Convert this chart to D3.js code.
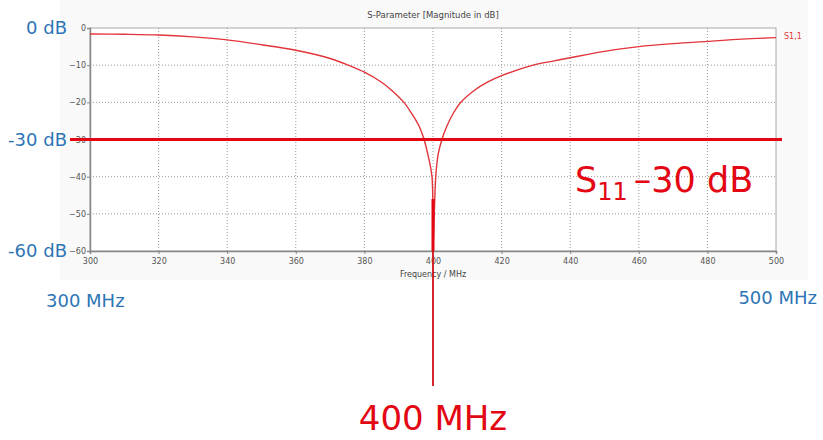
<!DOCTYPE html>
<html>
<head>
<meta charset="utf-8">
<script src="https://cdnjs.cloudflare.com/ajax/libs/d3/7.8.5/d3.min.js"></script>
<style>
  body { margin: 0; background: #fff; }
  .chart text { font-family: "DejaVu Sans", sans-serif; }
</style>
</head>
<body>
<div class="chart"></div>
<script>
// S11 (MHz, dB)
const freqs = [300, 310, 320, 330, 340, 350, 360, 370, 375, 380, 385, 388, 391.5, 394, 396, 397.4, 398.5, 399.7, 400,
               400.8, 401.5, 402.6, 404, 406, 408.1, 412, 416, 420, 429.2, 435, 440, 450, 460, 470, 480, 490, 500];
const s11 = [-1.6, -1.7, -1.9, -2.4, -3.2, -4.5, -6.0, -8.2, -9.9, -11.9, -14.6, -16.8, -20, -23.3, -26.5, -30, -34, -40, -60,
             -40, -34, -30, -26.5, -22.8, -20, -16.8, -14.5, -12.8, -10, -8.9, -8.0, -6.3, -5.0, -4.2, -3.6, -3.0, -2.6];
const xTicks = [300, 320, 340, 360, 380, 400, 420, 440, 460, 480, 500];
const yTicks = [0, -10, -20, -30, -40, -50, -60];
const dbLabels = [0, -30, -60];
const limitDb = -30;
const markFreq = 400;

const width = 823, height = 440;
const plot = {left: 90, right: 776, top: 28, bottom: 251};

const svg = d3.select(".chart").append("svg")
    .attr("width", width)
    .attr("height", height);

svg.append("rect")
    .attr("x", 60).attr("y", 0)
    .attr("width", 748).attr("height", 280)
    .attr("fill", "#f9f9f9");

const xScale = d3.scaleLinear()
    .domain([300, 500])
    .range([plot.left, plot.right]);

const yScale = d3.scaleLinear()
    .domain([-60, 0])
    .range([plot.bottom, plot.top]);

svg.append("rect")
    .attr("x", plot.left).attr("y", plot.top)
    .attr("width", plot.right - plot.left)
    .attr("height", plot.bottom - plot.top)
    .attr("fill", "#fff")
    .attr("stroke", "#aaa");

// grid
svg.append("g")
    .selectAll("line")
    .data(xTicks.slice(1, -1))
    .join("line")
    .attr("x1", d => xScale(d)).attr("x2", d => xScale(d))
    .attr("y1", plot.top).attr("y2", plot.bottom)
    .attr("stroke", "#999")
    .attr("stroke-dasharray", "1,2");

svg.append("g")
    .selectAll("line")
    .data(yTicks.slice(1, -1))
    .join("line")
    .attr("x1", plot.left).attr("x2", plot.right)
    .attr("y1", d => yScale(d)).attr("y2", d => yScale(d))
    .attr("stroke", "#999")
    .attr("stroke-dasharray", "1,2");

const xAxis = d3.axisBottom(xScale).tickValues(xTicks).tickSize(3).tickFormat(d3.format("d"));
const yAxis = d3.axisLeft(yScale).tickValues(yTicks).tickSize(3).tickFormat(d3.format("d"));

svg.append("g")
    .attr("class", "axis x-axis")
    .attr("transform", `translate(0, ${plot.bottom})`)
    .call(xAxis)
    .call(g => g.select(".domain").attr("stroke", "#888").attr("stroke-width", 1.5))
    .call(g => g.selectAll(".tick line").attr("stroke", "#888"))
    .call(g => g.selectAll(".tick text").attr("fill", "#555").attr("font-size", 8).attr("dy", "0.9em"));

svg.append("g")
    .attr("class", "axis y-axis")
    .attr("transform", `translate(${plot.left}, 0)`)
    .call(yAxis)
    .call(g => g.select(".domain").attr("stroke", "#888").attr("stroke-width", 1.5))
    .call(g => g.selectAll(".tick line").attr("stroke", "#888"))
    .call(g => g.selectAll(".tick text").attr("fill", "#555").attr("font-size", 8).attr("x", -4));

svg.append("text")
    .attr("x", (plot.left + plot.right) / 2)
    .attr("y", 18)
    .attr("text-anchor", "middle")
    .attr("font-size", 8.5)
    .attr("fill", "#444")
    .text("S-Parameter [Magnitude in dB]");

svg.append("text")
    .attr("x", xScale(400))
    .attr("y", 277)
    .attr("text-anchor", "middle")
    .attr("font-size", 8)
    .attr("fill", "#444")
    .text("Frequency / MHz");

// curve
svg.append("clipPath").attr("id", "clip")
    .append("rect")
    .attr("x", plot.left).attr("y", plot.top)
    .attr("width", plot.right - plot.left)
    .attr("height", plot.bottom - plot.top + 1);

const line = d3.line()
    .curve(d3.curveCatmullRom.alpha(0.5))
    .x(d => xScale(d[0]))
    .y(d => yScale(d[1]));

svg.append("path")
    .datum(d3.zip(freqs, s11))
    .attr("clip-path", "url(#clip)")
    .attr("fill", "none")
    .attr("stroke", "#e2343a")
    .attr("stroke-width", 1.4)
    .attr("d", line);

svg.append("text")
    .attr("x", plot.right + 8)
    .attr("y", 39)
    .attr("font-family", "Liberation Serif, serif")
    .attr("font-size", 8)
    .attr("fill", "#e2343a")
    .text("S1,1");

// annotations
svg.append("line")
    .attr("x1", xScale(300) - 20).attr("x2", xScale(500) + 6)
    .attr("y1", yScale(limitDb)).attr("y2", yScale(limitDb))
    .attr("stroke", "#e30613")
    .attr("stroke-width", 3);

svg.append("line")
    .attr("x1", xScale(markFreq)).attr("x2", xScale(markFreq))
    .attr("y1", yScale(-46)).attr("y2", yScale(-60))
    .attr("stroke", "#e30613")
    .attr("stroke-width", 3);

svg.append("line")
    .attr("x1", xScale(markFreq)).attr("x2", xScale(markFreq))
    .attr("y1", yScale(-60)).attr("y2", 386)
    .attr("stroke", "#d0101a")
    .attr("stroke-width", 1.8);

const note = svg.append("g").attr("font-family", "'Open Sans', sans-serif");

note.selectAll("text.db")
    .data(dbLabels)
    .join("text")
    .attr("class", "db")
    .attr("x", 67)
    .attr("y", d => yScale(d))
    .attr("dy", "0.36em")
    .attr("text-anchor", "end")
    .attr("font-size", 18)
    .attr("fill", "#2e75b6")
    .text(d => d + " dB");

note.append("text")
    .attr("x", 46).attr("y", 307)
    .attr("font-size", 18)
    .attr("fill", "#2e75b6")
    .text(xScale.domain()[0] + " MHz");

note.append("text")
    .attr("x", 817).attr("y", 304)
    .attr("text-anchor", "end")
    .attr("font-size", 18)
    .attr("fill", "#2e75b6")
    .text(xScale.domain()[1] + " MHz");

note.append("text")
    .attr("x", xScale(markFreq))
    .attr("y", 430)
    .attr("text-anchor", "middle")
    .attr("font-size", 34)
    .attr("fill", "#e30613")
    .text(markFreq + " MHz");

const s = note.append("text")
    .attr("x", 575).attr("y", 192)
    .attr("font-size", 35)
    .attr("fill", "#e30613");
s.append("tspan").text("S");
s.append("tspan").attr("font-size", 24).attr("dy", 8).text("11");
s.append("tspan").attr("dx", 6).attr("dy", -8).text("\u2013" + Math.abs(limitDb) + " dB");
</script>
</body>
</html>
